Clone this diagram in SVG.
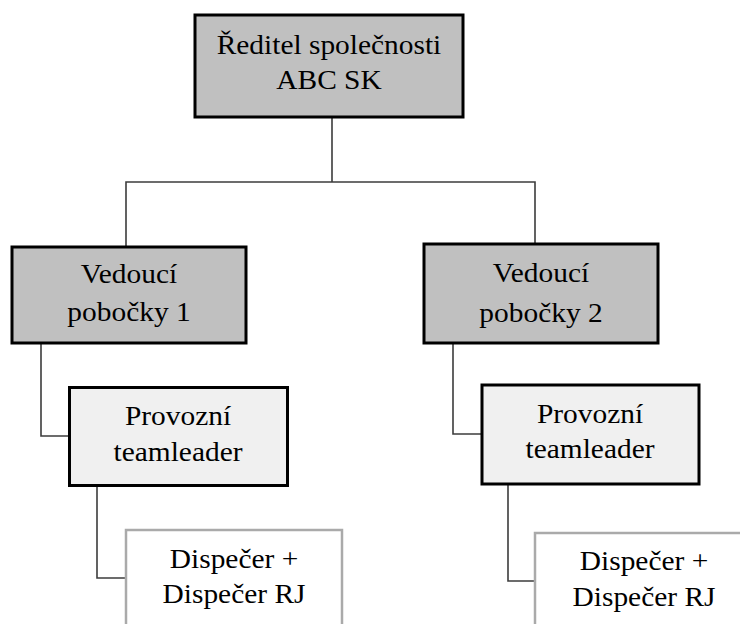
<svg xmlns="http://www.w3.org/2000/svg" width="740" height="624" viewBox="0 0 740 624">
  <style>
    .box { stroke: #000; stroke-width: 3; }
    .lvl1 { fill: #c0c0c0; }
    .lvl2 { fill: #f0f0f0; }
    .lvl3 { fill: #fff; stroke: #aaaaaa; stroke-width: 2.5; }
    .link { fill: none; stroke: #3c3c3c; stroke-width: 1.6; }
    .lbl { font-family: "Liberation Serif", "Times New Roman", serif; font-size: 26.5px; fill: #000; text-anchor: middle; }
  </style>
  <rect width="740" height="624" fill="#fff"/>

  <!-- connectors -->
  <g id="connectors">
    <path class="link" d="M332,117 V182 M126,247 V182 H535 V244"/>
    <path class="link" d="M41,343 V436 H69"/>
    <path class="link" d="M453,343 V434 H482"/>
    <path class="link" d="M97,485 V578 H126"/>
    <path class="link" d="M508,484 V581 H535"/>
  </g>

  <!-- labels are widened slightly (scale 1.11 on x) -->
  <g id="reditel">
    <rect class="box lvl1" x="195" y="15" width="268" height="102"/>
    <text class="lbl" transform="translate(329,54) scale(1.11,1)">Ředitel společnosti</text>
    <text class="lbl" transform="translate(329,89) scale(1.11,1)">ABC SK</text>
  </g>

  <g id="vedouci1">
    <rect class="box lvl1" x="12" y="247" width="234" height="96"/>
    <text class="lbl" transform="translate(129,283) scale(1.11,1)">Vedoucí</text>
    <text class="lbl" transform="translate(129,321) scale(1.11,1)">pobočky 1</text>
  </g>

  <g id="vedouci2">
    <rect class="box lvl1" x="424" y="244" width="234" height="99"/>
    <text class="lbl" transform="translate(541,282) scale(1.11,1)">Vedoucí</text>
    <text class="lbl" transform="translate(541,322) scale(1.11,1)">pobočky 2</text>
  </g>

  <g id="teamleader1">
    <rect class="box lvl2" x="69.5" y="387.5" width="218" height="98"/>
    <text class="lbl" transform="translate(178,425) scale(1.11,1)">Provozní</text>
    <text class="lbl" transform="translate(178,461) scale(1.11,1)">teamleader</text>
  </g>

  <g id="teamleader2">
    <rect class="box lvl2" x="482" y="385" width="217" height="99"/>
    <text class="lbl" transform="translate(590,423) scale(1.11,1)">Provozní</text>
    <text class="lbl" transform="translate(590,458) scale(1.11,1)">teamleader</text>
  </g>

  <g id="dispecer1">
    <rect class="lvl3" x="126" y="530" width="216" height="110"/>
    <text class="lbl" transform="translate(234,568) scale(1.11,1)">Dispečer +</text>
    <text class="lbl" transform="translate(234,603) scale(1.11,1)">Dispečer RJ</text>
  </g>

  <g id="dispecer2">
    <rect class="lvl3" x="535" y="533" width="220" height="110"/>
    <text class="lbl" transform="translate(644,570) scale(1.11,1)">Dispečer +</text>
    <text class="lbl" transform="translate(644,606) scale(1.11,1)">Dispečer RJ</text>
  </g>
</svg>
